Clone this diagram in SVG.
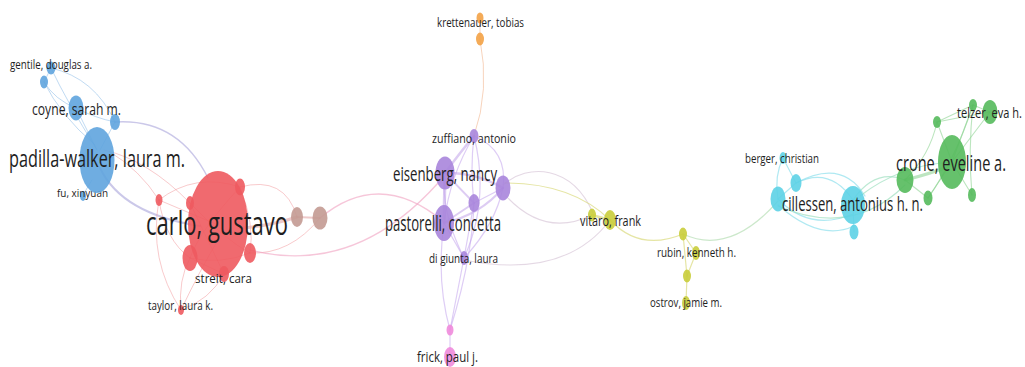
<svg xmlns="http://www.w3.org/2000/svg" width="1025" height="367" viewBox="0 0 1025 367">
<style>
.e{fill:none;stroke-linecap:round}
.eb{stroke:#8dbbe8;stroke-opacity:.55;stroke-width:1}
.el{stroke:#a9a4da;stroke-opacity:.6;stroke-width:1.3}
.er{stroke:#f08a8e;stroke-opacity:.45;stroke-width:1}
.ebr{stroke:#e3a6a6;stroke-opacity:.6;stroke-width:3}
.epk{stroke:#f0a0bf;stroke-opacity:.6;stroke-width:1.3}
.ep{stroke:#c2a4ec;stroke-opacity:.55;stroke-width:1.2}
.ep2{stroke:#bb9ae8;stroke-opacity:.5;stroke-width:2.6}
.eo{stroke:#f3c0a0;stroke-opacity:.7;stroke-width:1}
.epy{stroke:#d9c8d8;stroke-opacity:.7;stroke-width:1.1}
.ey{stroke:#dcdc86;stroke-opacity:.75;stroke-width:1.2}
.eyc{stroke:#bfe2be;stroke-opacity:.8;stroke-width:1.2}
.ec{stroke:#8fe0ec;stroke-opacity:.7;stroke-width:1.2}
.ecg{stroke:#9fe0c0;stroke-opacity:.7;stroke-width:1.2}
.eg{stroke:#8ed493;stroke-opacity:.6;stroke-width:1.1}
.eg2{stroke:#86cf8c;stroke-opacity:.55;stroke-width:3}
.n{fill-opacity:.9}
.blue{fill:#5fa4de}
.red{fill:#ee5a5f}
.brown{fill:#c39a92}
.orange{fill:#f3a246}
.purple{fill:#a985dc}
.pink{fill:#ef8bdc}
.yellow{fill:#c9cd3b}
.cyan{fill:#5dd2e5}
.green{fill:#55ba5c}
text{font-family:"Open Sans","Noto Sans","DejaVu Sans",sans-serif;fill:#1e1e1e}
</style>
<rect width="1025" height="367" fill="#ffffff"/>
<g id="connectors">
<path class="e eb" d="M51,68 L44,82"/>
<path class="e eb" d="M51,68 Q66,100 97,150"/>
<path class="e eb" d="M44,82 Q55,100 76,108"/>
<path class="e eb" d="M44,82 Q60,115 95,145"/>
<path class="e eb" d="M51,68 Q95,78 115,122"/>
<path class="e eb" d="M76,108 Q95,118 115,122"/>
<path class="e eb" d="M76,108 L97,150"/>
<path class="e eb" d="M115,122 L100,150"/>
<path class="e eb" d="M83,195 L92,180"/>
<path class="e el" d="M115,122 Q178,118 208,178"/>
<path class="e el" style="stroke-width:2" d="M100,168 Q122,214 200,226"/>
<path class="e er" d="M104,150 Q148,160 190,203"/>
<path class="e er" d="M110,152 Q140,170 159,200"/>
<path class="e er" d="M159,200 Q195,172 240,187"/>
<path class="e er" d="M240,187 Q285,175 297,217"/>
<path class="e er" d="M159,200 Q165,240 190,258"/>
<path class="e er" d="M159,200 L218,225"/>
<path class="e er" d="M190,203 Q225,240 250,253"/>
<path class="e er" d="M190,203 L224,274"/>
<path class="e er" d="M240,187 Q200,230 190,258"/>
<path class="e er" d="M240,187 Q255,225 250,253"/>
<path class="e er" d="M190,258 Q220,265 250,253"/>
<path class="e er" d="M190,258 L224,274"/>
<path class="e er" d="M181,310 Q178,280 190,258"/>
<path class="e er" d="M181,310 Q200,270 218,240"/>
<path class="e er" d="M181,310 Q148,260 159,200"/>
<path class="e er" d="M181,310 Q210,300 224,274"/>
<path class="e ebr" d="M240,228 Q270,226 297,217"/>
<path class="e ebr" style="stroke-width:2" d="M297,217 L320,218"/>
<path class="e er" d="M250,253 Q290,255 320,218"/>
<path class="e epk" d="M250,250 C305,264 375,258 445,175"/>
<path class="e epk" d="M320,218 Q380,168 444,222"/>
<path class="e eo" d="M480,18 L480,39"/>
<path class="e eo" d="M480,39 Q490,90 474,136"/>
<path class="e ep2" style="stroke-width:3.2" d="M445,173 L444,223"/>
<path class="e ep2" d="M445,173 Q462,150 474,136"/>
<path class="e ep2" d="M445,173 Q475,172 503,188"/>
<path class="e ep2" style="stroke-width:1.8" d="M445,173 L474,203"/>
<path class="e ep2" style="stroke-width:2" d="M444,223 L474,203"/>
<path class="e ep2" style="stroke-width:2" d="M444,223 Q480,215 503,188"/>
<path class="e ep" d="M474,136 Q508,150 503,188"/>
<path class="e ep" d="M474,136 Q450,175 444,223"/>
<path class="e ep" d="M474,136 Q470,170 474,203"/>
<path class="e ep" d="M474,203 L503,188"/>
<path class="e ep" d="M464,258 L444,223"/>
<path class="e ep" d="M464,258 Q440,210 445,173"/>
<path class="e ep" d="M464,258 L474,203"/>
<path class="e ep" d="M464,258 Q490,200 474,136"/>
<path class="e ep" d="M464,258 Q495,225 503,188"/>
<path class="e ep" d="M450,330 Q436,280 444,223"/>
<path class="e ep" d="M450,330 L464,258"/>
<path class="e ep" d="M450,330 Q472,260 474,203"/>
<path class="e ep" d="M450,330 L450,357"/>
<path class="e epy" d="M503,185 C528,163 572,165 593,213"/>
<path class="e ey" d="M505,183 Q572,183 610,220"/>
<path class="e epy" d="M506,196 Q545,238 592,215"/>
<path class="e epy" d="M464,260 Q565,280 610,220"/>
<path class="e ey" style="stroke-width:2.5" d="M592,215 L610,220"/>
<path class="e ey" d="M610,220 Q640,252 683,234"/>
<path class="e ey" d="M683,234 L696,253"/>
<path class="e ey" d="M683,234 L687,276"/>
<path class="e ey" d="M696,253 L687,276"/>
<path class="e ey" d="M687,276 L686,303"/>
<path class="e eyc" d="M683,234 Q730,256 778,201"/>
<path class="e ec" d="M783,158 L796,183"/>
<path class="e ec" d="M783,158 Q774,176 778,199"/>
<path class="e ec" d="M796,183 L778,199"/>
<path class="e ec" d="M796,183 Q830,166 853,200"/>
<path class="e ec" d="M796,183 Q842,158 865,196"/>
<path class="e ec" d="M778,199 Q810,232 853,214"/>
<path class="e ec" d="M778,205 Q820,242 854,226"/>
<path class="e ec" d="M853,205 L854,232"/>
<path class="e ecg" d="M853,200 Q875,168 905,180"/>
<path class="e ecg" d="M778,206 Q852,238 905,185"/>
<path class="e ecg" d="M860,196 Q900,165 952,162"/>
<path class="e eg2" d="M905,180 Q930,174 952,165"/>
<path class="e eg" d="M952,162 L937,122"/>
<path class="e eg" d="M952,162 L990,112"/>
<path class="e eg" d="M952,162 L973,105"/>
<path class="e eg" d="M952,162 L972,195"/>
<path class="e eg" d="M905,180 L928,198"/>
<path class="e eg" d="M928,198 L952,162"/>
<path class="e eg" d="M937,122 L973,105"/>
<path class="e eg" d="M937,122 Q930,155 905,180"/>
<path class="e eg" d="M973,105 L990,112"/>
<path class="e eg" d="M937,122 Q962,117 990,112"/>
<path class="e eg" d="M973,105 Q955,160 928,198"/>
<path class="e eg" d="M973,105 Q968,150 972,195"/>
</g>
<g id="node-fu-xinyuan"><ellipse class="n blue" cx="83" cy="196" rx="3" ry="5"/><text transform="translate(57,197) scale(0.65,1)" font-size="11.5" textLength="78.5" lengthAdjust="spacingAndGlyphs">fu, xinyuan</text></g>
<g id="node-blue-2"><ellipse class="n blue" cx="44" cy="82" rx="4" ry="6.5"/></g>
<g id="node-blue-4"><ellipse class="n blue" cx="115" cy="122" rx="5" ry="8"/></g>
<g id="node-red-1"><ellipse class="n red" cx="240" cy="187" rx="5" ry="8.5"/></g>
<g id="node-red-2"><ellipse class="n red" cx="190" cy="203" rx="4" ry="7"/></g>
<g id="node-red-3"><ellipse class="n red" cx="159" cy="200" rx="3.5" ry="6"/></g>
<g id="node-brown-1"><ellipse class="n brown" cx="297" cy="217" rx="6" ry="10"/></g>
<g id="node-brown-2"><ellipse class="n brown" cx="320" cy="218" rx="7.5" ry="11.5"/></g>
<g id="node-orange-2"><ellipse class="n orange" cx="480" cy="39" rx="4" ry="6.5"/></g>
<g id="node-purple-3"><ellipse class="n purple" cx="503" cy="188" rx="7.5" ry="12.5"/></g>
<g id="node-purple-4"><ellipse class="n purple" cx="474" cy="203" rx="5.5" ry="9"/></g>
<g id="node-pink-1"><ellipse class="n pink" cx="450" cy="330" rx="3.5" ry="5.5"/></g>
<g id="node-yellow-1"><ellipse class="n yellow" cx="592" cy="215" rx="4" ry="6.5"/></g>
<g id="node-yellow-3"><ellipse class="n yellow" cx="683" cy="234" rx="4" ry="6.5"/></g>
<g id="node-yellow-5"><ellipse class="n yellow" cx="687" cy="276" rx="4" ry="6.5"/></g>
<g id="node-cyan-2"><ellipse class="n cyan" cx="796" cy="183" rx="5.5" ry="9"/></g>
<g id="node-cyan-3"><ellipse class="n cyan" cx="778" cy="199" rx="7.5" ry="12.5"/></g>
<g id="node-cyan-5"><ellipse class="n cyan" cx="854" cy="232" rx="4.5" ry="7.5"/></g>
<g id="node-green-1"><ellipse class="n green" cx="905" cy="180" rx="8.5" ry="13"/></g>
<g id="node-green-2"><ellipse class="n green" cx="928" cy="198" rx="4.5" ry="7.5"/></g>
<g id="node-green-4"><ellipse class="n green" cx="972" cy="195" rx="4" ry="7"/></g>
<g id="node-green-5"><ellipse class="n green" cx="937" cy="122" rx="4" ry="6"/></g>
<g id="node-green-6"><ellipse class="n green" cx="973" cy="105" rx="4" ry="6"/></g>
<g id="node-gentile"><ellipse class="n blue" cx="51" cy="68" rx="4.5" ry="6.5"/><text transform="translate(10,69) scale(0.65,1)" font-size="12.5" textLength="126.2" lengthAdjust="spacingAndGlyphs">gentile, douglas a.</text></g>
<g id="node-coyne"><ellipse class="n blue" cx="76" cy="108" rx="7.5" ry="12.5"/><text transform="translate(32,115) scale(0.65,1)" font-size="16" textLength="136.9" lengthAdjust="spacingAndGlyphs">coyne, sarah m.</text></g>
<g id="node-padilla-walker"><ellipse class="n blue" cx="97" cy="160" rx="17.5" ry="33"/><text transform="translate(9,167) scale(0.65,1)" font-size="24" textLength="270.8" lengthAdjust="spacingAndGlyphs">padilla-walker, laura m.</text></g>
<g id="node-carlo"><ellipse class="n red" cx="218" cy="224" rx="30" ry="53"/><ellipse class="n red" cx="190" cy="258" rx="7.5" ry="13"/><ellipse class="n red" cx="250" cy="253" rx="6" ry="10"/><text transform="translate(146,235) scale(0.65,1)" font-size="33" textLength="218.5" lengthAdjust="spacingAndGlyphs">carlo, gustavo</text></g>
<g id="node-streit"><ellipse class="n red" cx="224" cy="274" rx="5" ry="8"/><text transform="translate(195,283) scale(0.65,1)" font-size="13.5" textLength="87.7" lengthAdjust="spacingAndGlyphs">streit, cara</text></g>
<g id="node-taylor"><ellipse class="n red" cx="181" cy="310" rx="3" ry="5"/><text transform="translate(148,310) scale(0.65,1)" font-size="12.5" textLength="100" lengthAdjust="spacingAndGlyphs">taylor, laura k.</text></g>
<g id="node-krettenauer"><ellipse class="n orange" cx="480" cy="18" rx="3.5" ry="5.5"/><text transform="translate(437,27) scale(0.65,1)" font-size="13" textLength="133.8" lengthAdjust="spacingAndGlyphs">krettenauer, tobias</text></g>
<g id="node-zuffiano"><ellipse class="n purple" cx="474" cy="136" rx="4.5" ry="7"/><text transform="translate(432,143) scale(0.65,1)" font-size="13.5" textLength="129.2" lengthAdjust="spacingAndGlyphs">zuffiano, antonio</text></g>
<g id="node-eisenberg"><ellipse class="n purple" cx="445" cy="173" rx="9.5" ry="16.5"/><text transform="translate(393,181) scale(0.65,1)" font-size="20" textLength="160" lengthAdjust="spacingAndGlyphs">eisenberg, nancy</text></g>
<g id="node-pastorelli"><ellipse class="n purple" cx="444" cy="223" rx="10" ry="18"/><text transform="translate(385,231) scale(0.65,1)" font-size="21" textLength="178.5" lengthAdjust="spacingAndGlyphs">pastorelli, concetta</text></g>
<g id="node-di-giunta"><ellipse class="n purple" cx="464" cy="258" rx="4" ry="7"/><text transform="translate(429,263) scale(0.65,1)" font-size="13" textLength="106.2" lengthAdjust="spacingAndGlyphs">di giunta, laura</text></g>
<g id="node-frick"><ellipse class="n pink" cx="450" cy="357" rx="6" ry="10"/><text transform="translate(417,362) scale(0.65,1)" font-size="15" textLength="93.8" lengthAdjust="spacingAndGlyphs">frick, paul j.</text></g>
<g id="node-vitaro"><ellipse class="n yellow" cx="610" cy="220" rx="6" ry="10"/><text transform="translate(580,226) scale(0.65,1)" font-size="14" textLength="93.8" lengthAdjust="spacingAndGlyphs">vitaro, frank</text></g>
<g id="node-rubin"><ellipse class="n yellow" cx="696" cy="253" rx="4" ry="7"/><text transform="translate(657,257) scale(0.65,1)" font-size="13" textLength="121.5" lengthAdjust="spacingAndGlyphs">rubin, kenneth h.</text></g>
<g id="node-ostrov"><ellipse class="n yellow" cx="686" cy="303" rx="4" ry="7"/><text transform="translate(650,307) scale(0.65,1)" font-size="13" textLength="110.8" lengthAdjust="spacingAndGlyphs">ostrov, jamie m.</text></g>
<g id="node-berger"><ellipse class="n cyan" cx="783" cy="158" rx="3.5" ry="6"/><text transform="translate(745,163) scale(0.65,1)" font-size="13" textLength="113.8" lengthAdjust="spacingAndGlyphs">berger, christian</text></g>
<g id="node-cillessen"><ellipse class="n cyan" cx="853" cy="205" rx="12" ry="19"/><text transform="translate(782,211) scale(0.65,1)" font-size="20.5" textLength="216.9" lengthAdjust="spacingAndGlyphs">cillessen, antonius h. n.</text></g>
<g id="node-crone"><ellipse class="n green" cx="952" cy="162" rx="14" ry="27"/><text transform="translate(896,171) scale(0.65,1)" font-size="22" textLength="169.2" lengthAdjust="spacingAndGlyphs">crone, eveline a.</text></g>
<g id="node-telzer"><ellipse class="n green" cx="990" cy="112" rx="7.5" ry="12"/><text transform="translate(957,118) scale(0.65,1)" font-size="14" textLength="100" lengthAdjust="spacingAndGlyphs">telzer, eva h.</text></g>
</svg>
